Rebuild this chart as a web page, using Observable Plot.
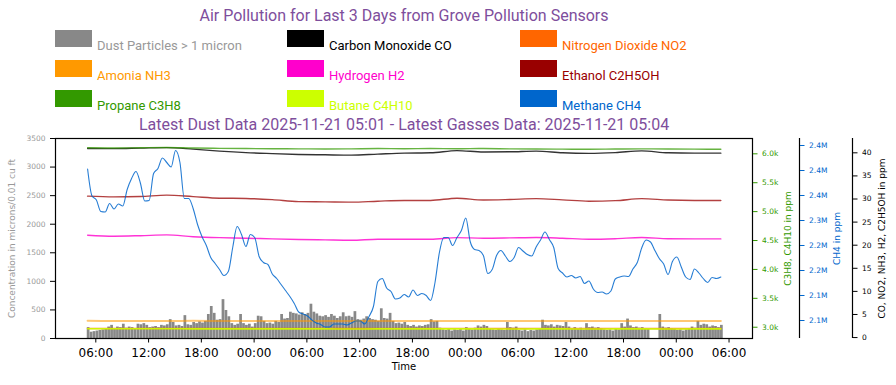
<!DOCTYPE html>
<html><head><meta charset="utf-8">
<script src="https://cdn.jsdelivr.net/npm/d3@7"></script>
<script src="https://cdn.jsdelivr.net/npm/@observablehq/plot@0.6"></script>
<style>
body{margin:0;background:#fff;}
#head{position:relative;width:896px;height:133px;font-family:Roboto,sans-serif;overflow:hidden;}
.t{position:absolute;left:0;width:808px;text-align:center;color:#7e4e9c;font-size:16px;line-height:18px;white-space:nowrap;}
.sw{position:absolute;width:37px;height:17px;}
.lb{position:absolute;font-size:13px;line-height:13px;white-space:nowrap;}
#chart svg{display:block;overflow:visible;}
</style></head><body>
<div id="head"></div><div id="chart"></div>
<script>
// ---------- data ----------
const titleText = "Air Pollution for Last 3 Days from Grove Pollution Sensors";
const subtitleText = "Latest Dust Data 2025-11-21 05:01 - Latest Gasses Data: 2025-11-21 05:04";
const legendLabels = ["Dust Particles > 1 micron","Carbon Monoxide CO","Nitrogen Dioxide NO2",
  "Amonia NH3","Hydrogen H2","Ethanol C2H5OH","Propane C3H8","Butane C4H10","Methane CH4"];
const legendColors = ["#888888","#000000","#ff6600","#ff9900","#ff00cc","#990000","#339900","#ccff00","#0066cc"];
const legendTextColors = ["#999999","#000000","#ff6600","#ff9900","#ff00cc","#990000","#339900","#ccff00","#0066cc"];

const gasStart = "2025-11-18T05:04:00Z";
const dustStart = "2025-11-18T05:01:00Z";

// CH4 in thousands of ppm, every 30 minutes
const ch4 = [2403,2349,2341,2318,2317,2334,2323,2333,2329,2362,
 2384,2398,2375,2339,2340,2394,2404,2425,2416,2407,
 2440,2416,2344,2344,2324,2292,2268,2250,2226,2214,
 2202,2190,2198,2246,2288,2272,2248,2272,2266,2228,
 2216,2212,2193,2184,2172,2160,2148,2134,2117,2113,
 2109,2101,2095,2092,2087,2087,2093,2093,2093,2091,
 2095,2099,2099,2093,2108,2128,2178,2184,2165,2158,
 2143,2145,2152,2147,2161,2150,2154,2150,2140,2176,
 2236,2266,2266,2250,2266,2280,2305,2258,2242,2240,
 2230,2194,2202,2230,2240,2229,2218,2226,2246,2239,
 2232,2229,2247,2261,2277,2262,2246,2204,2195,2187,
 2190,2185,2188,2174,2179,2163,2156,2157,2153,2159,
 2183,2187,2189,2188,2203,2216,2245,2261,2257,2240,
 2224,2213,2192,2218,2227,2207,2187,2182,2203,2195,
 2184,2176,2186,2184,2187];

// other gases every 3 hours (ppm)
const co = [40.95,40.91,41.02,41.13,40.80,40.37,40.04,39.83,39.65,39.57,39.50,39.72,39.93,40.00,40.48,40.19,40.22,40.37,40.00,39.87,40.04,40.43,40.00,39.93,39.93];
const ethanol = [30.62,30.47,30.55,30.83,30.51,30.18,30.12,29.86,29.43,29.38,29.32,29.53,29.69,29.69,30.18,29.79,29.90,30.08,29.82,29.53,29.64,30.08,29.79,29.69,29.69];
const h2 = [22.17,21.95,22.06,22.23,21.84,21.63,21.52,21.36,21.23,21.15,21.08,21.30,21.30,21.30,21.63,21.52,21.58,21.67,21.52,21.30,21.41,21.67,21.41,21.36,21.36];
const nh3 = [3.62,3.60,3.61,3.60,3.62,3.61,3.60,3.60,3.61,3.60,3.59,3.60,3.61,3.60,3.60,3.61,3.60,3.60,3.59,3.60,3.60,3.61,3.60,3.60,3.60];
const no2 = [1.98,1.97,1.96,1.97,1.98,1.96,1.95,1.95,1.96,1.95,1.94,1.95,1.95,1.96,1.95,1.95,1.94,1.95,1.95,1.94,1.95,1.95,1.94,1.95,1.95];
const propane = [6104,6100,6105,6109,6100,6095,6091,6088,6086,6083,6086,6091,6088,6091,6088,6091,6086,6083,6081,6079,6083,6086,6083,6081,6079];
const butane = [2974,2973,2973,2974,2972,2972,2971,2971,2972,2971,2970,2971,2971,2972,2971,2971,2970,2971,2971,2970,2971,2971,2970,2971,2971];

// dust particles every 20 minutes (null = missing)
const dust = [190,110,120,130,140,150,160,200,230,170,
 200,190,250,180,200,190,170,250,240,260,
 230,190,200,210,190,230,220,240,330,280,
 220,230,210,400,240,230,280,260,290,270,
 300,420,560,440,320,330,680,490,380,260,
 230,250,420,260,230,250,200,260,390,380,
 300,260,270,250,300,280,420,340,350,460,
 440,430,410,450,420,440,600,460,430,390,
 380,400,370,420,390,350,380,450,380,390,
 370,470,330,320,340,380,350,330,320,300,
 520,350,340,440,300,260,270,250,280,230,
 210,230,200,220,210,230,240,330,290,300,
 180,150,140,160,130,150,140,160,130,190,
 170,150,180,220,200,230,210,160,150,140,
 160,150,140,280,190,180,200,140,130,150,
 120,140,130,150,160,320,230,220,240,200,
 230,220,210,280,200,170,190,160,180,150,
 260,190,200,180,190,170,150,140,150,130,
 160,150,260,200,340,220,190,200,180,190,
 170,160,null,null,null,420,200,180,190,170,
 160,140,150,130,150,170,200,180,300,230,
 250,240,200,220,210,190,230];

// axes
const xDomainStr = ["2025-11-18T01:25:00Z","2025-11-21T08:40:00Z"];
const xTickStr = ["2025-11-18T06:00:00Z","2025-11-18T12:00:00Z","2025-11-18T18:00:00Z","2025-11-19T00:00:00Z",
 "2025-11-19T06:00:00Z","2025-11-19T12:00:00Z","2025-11-19T18:00:00Z","2025-11-20T00:00:00Z",
 "2025-11-20T06:00:00Z","2025-11-20T12:00:00Z","2025-11-20T18:00:00Z","2025-11-21T00:00:00Z","2025-11-21T06:00:00Z"];
const dustTicks = [0,500,1000,1500,2000,2500,3000,3500];
const c3Domain = [2805, 6265];
const c3Ticks = [3000,3500,4000,4500,5000,5500,6000];
const c3Labels = ["3.0k","3.5k","4.0k","4.5k","5.0k","5.5k","6.0k"];
const ch4Domain = [2064000, 2464000];
const ch4Ticks = [2100000,2150000,2200000,2250000,2300000,2350000,2400000,2450000];
const ch4Labels = ["2.1M","2.1M","2.2M","2.2M","2.3M","2.4M","2.4M","2.4M"];
const ppmDomain = [-0.2, 43.1];
const ppmTicks = [0,5,10,15,20,25,30,35,40];

// ---------- header ----------
const head = document.getElementById("head");
function add(cls, css, txt){const d=document.createElement("div");d.className=cls;Object.assign(d.style,css);if(txt!=null)d.textContent=txt;head.appendChild(d);}
add("t",{top:"7px"},titleText);
add("t",{top:"116px"},subtitleText);
const colX=[55,287,520], rowY=[30,60,90];
legendLabels.forEach((l,i)=>{
  const c=i%3, r=Math.floor(i/3);
  add("sw",{left:colX[c]+"px",top:rowY[r]+"px",background:legendColors[i]});
  add("lb",{left:(colX[c]+42)+"px",top:(rowY[r]+9)+"px",color:legendTextColors[i]},l);
});

// ---------- chart ----------
const MIN = 60000;
const yMax = 3500;
const lin = (d) => v => (v - d[0]) / (d[1] - d[0]) * yMax;
const mapA = lin(c3Domain), mapB = lin(ch4Domain), mapC = lin(ppmDomain);
const g0 = Date.parse(gasStart), d0 = Date.parse(dustStart);
const ch4Data = ch4.map((v,i)=>({t:new Date(g0+i*30*MIN), y:mapB(v*1000)}));
const flat = (arr,m)=>arr.map((v,i)=>({t:new Date(g0+i*180*MIN), y:m(v)}));
const dustData = dust.map((v,i)=>({t1:new Date(d0+i*20*MIN), t2:new Date(d0+(i+1)*20*MIN), v})).filter(d=>d.v!=null);
const xDomain = xDomainStr.map(s=>new Date(s));
const xTicks = xTickStr.map(s=>new Date(s));
const labA = new Map(c3Ticks.map((t,i)=>[mapA(t), c3Labels[i]]));
const labB = new Map(ch4Ticks.map((t,i)=>[mapB(t), ch4Labels[i]]));
const labC = new Map(ppmTicks.map(t=>[mapC(t), String(t)]));

const series = [
  {data:flat(co,mapC), stroke:"#000000", w:1.4, o:0.8},
  {data:flat(no2,mapC), stroke:"#ff6600", w:1.6, o:0.8},
  {data:flat(nh3,mapC), stroke:"#ff9900", w:2, o:0.55},
  {data:flat(h2,mapC), stroke:"#ff00cc", w:1.4, o:0.8},
  {data:flat(ethanol,mapC), stroke:"#990000", w:1.4, o:0.75},
  {data:flat(propane,mapA), stroke:"#339900", w:1.4, o:0.75},
  {data:flat(butane,mapA), stroke:"#ccff00", w:1.6, o:0.9},
  {data:ch4Data, stroke:"#0066cc", w:1.1, o:0.85}
];

const tickOpts = {tickSize:4.5, tickPadding:5, fontSize:7.5, label:null};
const rot = {rotate:-90, fontSize:9, textAnchor:"middle", lineAnchor:"middle", text:d=>d};
const plot = Plot.plot({
  width:896, height:252, marginTop:5, marginBottom:47, marginLeft:55, marginRight:144,
  x:{type:"utc", domain:xDomain, axis:null},
  y:{domain:[0,yMax], axis:null},
  style:{fontFamily:"DejaVu Sans, sans-serif", background:"#fff", overflow:"visible"},
  marks:[
    Plot.rectY(dustData,{x1:"t1",x2:"t2",y:"v",fill:"#888888",insetLeft:0.1,insetRight:0.1}),
    ...series.map(s=>Plot.line(s.data,{x:"t",y:"y",stroke:s.stroke,strokeWidth:s.w,strokeOpacity:s.o,curve:"monotone-x"})),
    Plot.frame({stroke:"#000",strokeWidth:1.2}),
    Plot.axisX(xTicks,{anchor:"bottom",tickSize:4.5,tickPadding:5,fontSize:12,fill:"#000",stroke:"#000",tickFormat:d3.utcFormat("%H:%M"),label:null}),
    Plot.text(["Time"],{frameAnchor:"bottom",dy:31,fontSize:10,fill:"#000",text:d=>d}),
    Plot.axisY(dustTicks,{...tickOpts,anchor:"left",tickSize:5,fill:"#999",stroke:"#000",tickFormat:d=>String(d)}),
    Plot.text(["Concentration in microns/0.01 cu ft"],{...rot,frameAnchor:"left",dx:-43,fill:"#999"}),
    Plot.axisY(c3Ticks.map(mapA),{...tickOpts,anchor:"right",fill:"#339900",stroke:"#339900",tickFormat:d=>labA.get(d)}),
    Plot.text(["C3H8, C4H10 in ppm"],{...rot,frameAnchor:"right",dx:36,fill:"#339900"}),
    Plot.ruleX([xDomain[1]],{dx:47,stroke:"#000",strokeWidth:1.2}),
    Plot.axisY(ch4Ticks.map(mapB),{...tickOpts,anchor:"right",dx:47,fill:"#0066cc",stroke:"#0066cc",tickFormat:d=>labB.get(d)}),
    Plot.text(["CH4 in ppm"],{...rot,frameAnchor:"right",dx:85,fill:"#0066cc"}),
    Plot.ruleX([xDomain[1]],{dx:100,stroke:"#000",strokeWidth:1.2}),
    Plot.axisY(ppmTicks.map(mapC),{...tickOpts,anchor:"right",dx:100,fill:"#000",stroke:"#000",tickFormat:d=>labC.get(d)}),
    Plot.text(["CO, NO2, NH3, H2, C2H5OH in ppm"],{...rot,frameAnchor:"right",dx:130,fill:"#000"})
  ]
});
document.getElementById("chart").appendChild(plot);
</script>
</body></html>
